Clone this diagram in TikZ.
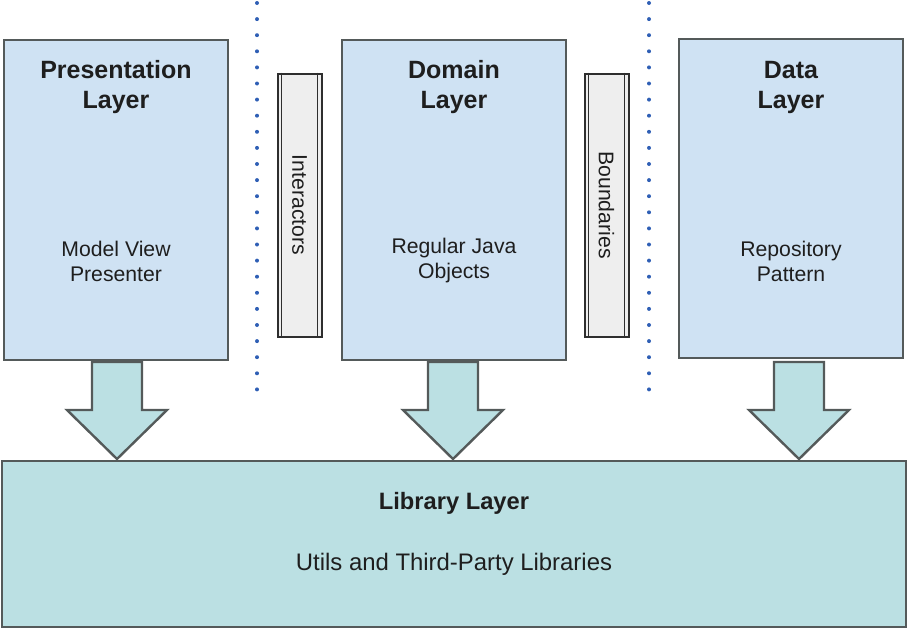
\documentclass[tikz,border=0pt]{standalone}
\usepackage{fontspec}
\setmainfont{Liberation Sans}
\usetikzlibrary{calc}
\definecolor{layerblue}{HTML}{CFE2F3}
\definecolor{libcyan}{HTML}{BBE0E3}
\definecolor{edgegray}{HTML}{545A5A}
\definecolor{bargray}{HTML}{EEEEEE}
\definecolor{bardark}{HTML}{2E2E2E}
\definecolor{dotblue}{HTML}{2F5FB5}
\definecolor{txt}{HTML}{1E1E1E}
\tikzset{
  layerbox/.style={draw=edgegray, fill=layerblue, line width=2.4pt, minimum width=224pt, minimum height=320pt, inner sep=0pt},
  libbox/.style={draw=edgegray, fill=libcyan, line width=2.4pt, minimum width=904pt, minimum height=166pt, inner sep=0pt},
  barbox/.style={draw=bardark, fill=bargray, line width=2pt, minimum width=44pt, minimum height=263pt, inner sep=0pt},
  bararrow/.style={draw=edgegray, fill=libcyan, line width=2.4pt, line join=miter},
  titletext/.style={text=txt, font=\fontsize{25}{30}\selectfont\bfseries, align=center},
  bodytext/.style={text=txt, font=\fontsize{21.2}{25}\selectfont, align=center},
  libtitle/.style={text=txt, font=\fontsize{23.7}{28}\selectfont\bfseries},
  libbody/.style={text=txt, font=\fontsize{23.9}{28}\selectfont},
  bartext/.style={text=txt, font=\fontsize{21.2}{25}\selectfont, rotate=-90},
  dotline/.style={dotblue, line width=4pt, line cap=round, dash pattern=on 0pt off 16.1pt},
}
\begin{document}
\begin{tikzpicture}[x=1pt, y=-1pt]
\useasboundingbox (0,0) rectangle (908,629);

% dotted separators
\coordinate (d1top) at (257,3);
\coordinate (d1bot) at (257,392);
\coordinate (d2top) at (649,3);
\coordinate (d2bot) at (649,392);
\draw[dotline] (d1top) -- (d1bot);
\draw[dotline] (d2top) -- (d2bot);

% layer boxes
\node[layerbox] (pres) at (116,200) {};
\node[layerbox] (dom) at (454,200) {};
\node[layerbox, minimum height=319pt] (data) at (791,198.5) {};

\node[titletext] (prest) at (116,87) {Presentation\\Layer};
\node[bodytext] (presb) at (116,261) {Model View\\Presenter};
\node[titletext] (domt) at (454,87) {Domain\\Layer};
\node[bodytext] (domb) at (454,261) {Regular Java\\Objects};
\node[titletext] (datat) at (791,87) {Data\\Layer};
\node[bodytext] (datab) at (791,261) {Repository\\Pattern};

% bars
\node[barbox] (inter) at (299.5,205) {};
\draw[bardark, line width=1.3pt] ($(inter.north west)+(5,0)$) -- ($(inter.south west)+(5,0)$);
\draw[bardark, line width=1.3pt] ($(inter.north east)+(-5,0)$) -- ($(inter.south east)+(-5,0)$);
\node[bartext] (intert) at (inter.center) {Interactors};

\node[barbox] (bound) at (606.5,205) {};
\draw[bardark, line width=1.3pt] ($(bound.north west)+(5,0)$) -- ($(bound.south west)+(5,0)$);
\draw[bardark, line width=1.3pt] ($(bound.north east)+(-5,0)$) -- ($(bound.south east)+(-5,0)$);
\node[bartext] (boundt) at (bound.center) {Boundaries};

% library
\node[libbox] (lib) at (454,544) {};
\node[libtitle] (libt) at (454,503) {Library Layer};
\node[libbody] (libb) at (454,564) {Utils and Third-Party Libraries};

% block arrows
\foreach \cx/\nm in {117/pres, 453/dom, 799/data}{
  \draw[bararrow] (\cx-25,362) -- (\cx+25,362) -- (\cx+25,410) -- (\cx+50,410)
     -- (\cx,459) -- (\cx-50,410) -- (\cx-25,410) -- cycle;
}
\end{tikzpicture}
\end{document}
